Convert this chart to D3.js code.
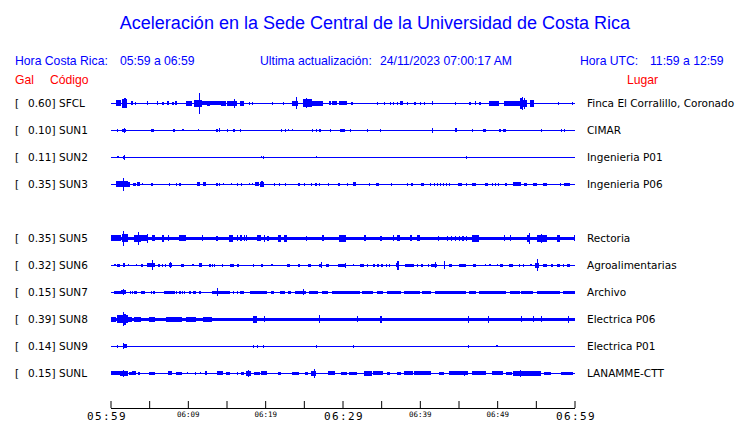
<!DOCTYPE html>
<html><head><meta charset="utf-8">
<script src="https://cdn.jsdelivr.net/npm/d3@7/dist/d3.min.js"></script>
<style>
html,body{margin:0;padding:0;background:#fff;}
svg{display:block;}
</style></head>
<body>
<svg id="chart" width="740" height="423"></svg>
<script>
// ---------- DATA ----------
const title = "Aceleración en la Sede Central de la Universidad de Costa Rica";
const horaCR = "05:59 a 06:59";
const horaUTC = "11:59 a 12:59";
const ultima = "24/11/2023 07:00:17 AM";
const startMinutes = 5 * 60 + 59; // 05:59
const tickMinutes = [0,5,10,15,20,25,30,35,40,45,50,55,60];
const labelMinutes = [0,10,20,30,40,50,60];
const bigLabelMinutes = [0,30,60];

const codes = ["SFCL","SUN1","SUN2","SUN3",null,"SUN5","SUN6","SUN7","SUN8","SUN9","SUNL"];
const gals  = [0.60, 0.10, 0.11, 0.35, null, 0.35, 0.32, 0.15, 0.39, 0.14, 0.15];
const lugares = ["Finca El Corralillo, Coronado","CIMAR","Ingenieria P01","Ingenieria P06",null,
  "Rectoria","Agroalimentarias","Archivo","Electrica P06","Electrica P01","LANAMME-CTT"];
// continuous noise floor (gal) per station
const noiseFloor = [0, 0, 0, 0, null, 0.1, 0, 0, 0.095, 0, 0];

// envelope segments per station: [start minute, end minute, half-amplitude gal]
const sfcl = [[0.65,1.3,0.15],[1.55,2.1,0.22],[1.8,1.8,0.26],[2.7,2.8,0.08],[3.2,3.3,0.07],[4.75,4.85,0.08],[6.05,6.15,0.08],[6.7,6.8,0.07],[7.35,7.45,0.08],[8.0,8.1,0.07],[8.4,8.5,0.09],
 [9.7,10.6,0.12],[10.85,11.8,0.18],[11.4,11.4,0.6],[11.8,14.3,0.09],[12.5,12.9,0.12],[14.3,14.9,0.13],[15.0,16.4,0.13],[16.0,16.0,0.24],[16.7,17.3,0.13],
 [17.85,17.95,0.07],[18.3,18.4,0.06],[20.9,21.0,0.06],[22.3,22.4,0.06],[23.5,24.3,0.13],[24.0,24.0,0.33],[24.9,26.1,0.2],[25.3,25.3,0.27],[26.1,27.5,0.11],
 [28.3,28.4,0.08],[28.7,29.3,0.09],[29.6,30.6,0.08],[31.1,31.3,0.07],[34.4,34.5,0.07],[35.4,35.5,0.07],[36.1,36.2,0.06],[36.5,36.6,0.07],[37.0,37.1,0.07],[37.4,37.8,0.09],
 [38.3,38.4,0.07],[39.3,39.4,0.06],[40.0,40.1,0.07],[40.5,40.6,0.06],[41.6,41.7,0.08],[44.5,44.6,0.07],[46.4,46.5,0.06],[47.1,47.2,0.08],[47.7,47.8,0.06],
 [49.0,50.2,0.11],[50.9,52.9,0.11],[52.9,53.9,0.18],[53.0,53.0,0.3],[53.2,53.2,0.35],[53.5,53.5,0.28],[54.2,54.8,0.18],[57.9,58.0,0.05],[59.7,59.8,0.06]];
const sun1 = [[0.8,0.9,0.05],[1.55,1.95,0.07],[1.7,1.7,0.12],[5.3,5.4,0.06],[5.5,5.6,0.06],[8.1,8.4,0.07],[9.3,9.4,0.04],[11.25,11.35,0.03],[13.7,13.8,0.05],[14.0,14.2,0.08],
 [15.1,15.2,0.05],[15.8,15.9,0.07],[16.0,16.1,0.07],[16.7,16.8,0.05],[22.0,22.1,0.05],[22.5,22.6,0.06],[22.9,23.0,0.04],[23.5,23.6,0.04],[26.0,26.1,0.06],[26.6,26.7,0.06],
 [27.0,27.1,0.06],[28.4,28.5,0.05],[29.7,30.3,0.07],[31.0,31.1,0.06],[33.2,33.3,0.05],[34.8,34.9,0.05],[41.6,41.6,0.13],[44.5,44.8,0.08],[46.7,46.8,0.05],[48.2,48.5,0.07],
 [50.3,50.4,0.06],[50.7,51.1,0.07],[55.7,55.8,0.05],[58.2,58.3,0.05],[58.6,58.7,0.05]];
const sun2 = [[0.9,1.0,0.03],[1.6,1.9,0.06],[1.7,1.7,0.1],[19.4,19.5,0.03],[19.7,19.9,0.06],[26.6,26.7,0.03],[46.0,46.0,0.07]];
const sun3 = [[0.8,2.5,0.1],[0.65,2.2,0.15],[1.6,1.6,0.35],[2.85,2.95,0.05],[3.1,3.2,0.05],[3.4,3.75,0.08],[4.1,4.2,0.04],[5.2,5.3,0.06],[5.4,5.5,0.06],[7.5,7.6,0.05],
 [8.5,8.6,0.06],[8.9,9.0,0.06],[11.2,11.6,0.08],[11.9,12.4,0.08],[13.7,13.8,0.06],[14.0,14.1,0.06],[14.5,14.6,0.04],[15.6,15.7,0.04],[16.3,16.5,0.06],[16.9,17.0,0.07],
 [17.9,18.0,0.03],[18.3,18.4,0.04],[18.7,19.2,0.08],[19.3,19.9,0.1],[19.5,19.5,0.15],[21.1,21.2,0.05],[21.8,21.9,0.05],[22.5,22.6,0.05],[24.3,24.4,0.06],[25.0,25.1,0.05],
 [25.9,26.1,0.07],[26.4,26.7,0.07],[26.9,27.1,0.07],[28.1,28.2,0.05],[29.4,29.7,0.07],[30.6,30.7,0.05],[31.3,31.7,0.08],[33.4,33.5,0.05],[34.3,34.7,0.06],[36.3,36.4,0.06],
 [38.3,38.4,0.06],[38.9,39.0,0.05],[40.2,40.6,0.07],[41.3,41.4,0.07],[41.8,41.9,0.07],[42.2,42.3,0.07],[42.6,42.7,0.07],[43.0,43.1,0.07],[43.4,43.5,0.07],[43.8,43.9,0.07],
 [44.9,45.4,0.06],[46.0,46.1,0.05],[46.8,47.3,0.07],[48.4,48.8,0.06],[49.3,49.4,0.07],[49.7,49.8,0.07],[50.1,50.3,0.07],[51.0,51.3,0.06],[52.0,53.1,0.08],[53.5,53.9,0.06],
 [54.6,55.1,0.07],[55.9,56.5,0.06],[58.1,58.3,0.05],[58.7,59.4,0.07]];
const sun5 = [[0,1.4,0.15],[1.6,1.6,0.4],[1.55,2.2,0.2],[3.1,3.9,0.17],[3.5,3.5,0.37],[4.0,4.9,0.15],[4.7,4.7,0.23],[5.4,5.8,0.14],[6.6,6.9,0.17],[7.4,7.6,0.14],[8.9,9.8,0.15],
 [11.8,11.9,0.14],[13.7,13.8,0.12],[15.3,15.8,0.16],[16.3,16.5,0.14],[16.8,17.0,0.14],[17.2,17.3,0.14],[17.5,17.7,0.14],[18.9,19.5,0.15],[19.8,19.8,0.18],[20.3,20.4,0.13],
 [21.6,22.1,0.16],[22.4,22.8,0.16],[25.3,25.4,0.13],[27.4,27.5,0.14],[29.6,30.5,0.16],[32.8,33.1,0.15],[34.9,35.0,0.13],[36.5,36.7,0.15],[37.0,37.4,0.15],[38.7,39.0,0.14],
 [39.6,40.0,0.14],[42.3,42.4,0.13],[43.5,43.6,0.13],[44.0,44.1,0.13],[44.5,44.6,0.13],[45.0,45.1,0.13],[45.5,45.6,0.13],[46.0,46.1,0.13],[46.8,47.6,0.17],[50.9,51.0,0.14],
 [51.6,51.7,0.14],[53.8,54.2,0.17],[54.1,54.1,0.3],[55.2,56.4,0.18],[55.7,55.7,0.22],[57.7,58.1,0.16],[59.9,60,0.14]];
const sun6 = [[0.5,0.6,0.04],[0.9,1.2,0.06],[1.6,1.9,0.08],[2.3,2.4,0.04],[3.3,3.4,0.04],[3.9,4.2,0.06],[4.7,5.7,0.08],[5.4,5.4,0.26],[6.2,6.4,0.07],[6.6,6.8,0.07],[7.0,7.2,0.07],
 [7.5,8.0,0.09],[7.7,7.7,0.15],[9.1,9.2,0.05],[9.3,9.4,0.05],[10.6,10.7,0.04],[11.4,11.8,0.08],[12.8,12.9,0.06],[13.1,13.2,0.06],[13.4,13.5,0.06],[14.4,14.5,0.05],[15.5,16.0,0.06],
 [16.3,16.6,0.06],[18.4,18.5,0.05],[19.5,19.6,0.06],[20.8,20.9,0.04],[22.8,23.2,0.06],[24.3,24.4,0.05],[25.5,25.9,0.07],[27.0,27.4,0.07],[27.2,27.2,0.15],[27.9,28.2,0.06],
 [29.4,30.5,0.06],[30.3,30.3,0.12],[31.3,31.4,0.04],[32.2,32.8,0.06],[33.2,33.3,0.05],[34.0,34.2,0.06],[34.5,34.6,0.06],[35.0,35.3,0.06],[35.6,35.7,0.06],[36.0,36.1,0.06],
 [36.9,37.3,0.08],[37.1,37.1,0.24],[38.1,39.2,0.07],[39.6,39.7,0.05],[40.2,40.3,0.05],[41.0,41.1,0.06],[41.5,42.2,0.07],[41.9,41.9,0.14],[43.1,43.1,0.2],[43.8,44.2,0.06],
 [45.1,46.0,0.07],[46.9,47.3,0.06],[48.4,48.5,0.04],[49.0,49.1,0.04],[50.0,50.1,0.04],[50.4,50.8,0.06],[51.5,52.0,0.07],[52.8,52.9,0.05],[53.3,53.5,0.06],[54.3,54.4,0.04],
 [54.9,55.4,0.1],[55.1,55.1,0.32],[55.9,56.4,0.07],[57.0,57.1,0.05],[57.7,58.1,0.06],[58.5,58.6,0.05],[59.0,59.4,0.06]];
const sun7 = [[0.5,1.3,0.07],[1.3,2.0,0.08],[1.6,1.6,0.15],[2.5,2.6,0.06],[2.8,2.9,0.06],[3.1,3.4,0.06],[3.9,4.4,0.07],[5.2,5.3,0.06],[5.5,5.7,0.06],[6.9,8.3,0.07],[8.5,8.6,0.06],
 [8.9,9.0,0.06],[9.2,9.3,0.06],[9.5,9.6,0.06],[10.2,10.3,0.05],[10.7,11.1,0.05],[11.5,11.6,0.05],[13.1,15.4,0.07],[13.75,13.75,0.2],[15.8,16.0,0.06],[16.3,16.5,0.06],
 [16.8,17.3,0.06],[18.0,20.3,0.07],[20.8,21.2,0.06],[21.9,22.5,0.07],[22.9,23.4,0.06],[23.8,25.3,0.07],[24.9,24.9,0.15],[25.7,26.8,0.06],[27.4,28.1,0.06],[28.7,32.2,0.07],
 [32.5,33.9,0.06],[34.4,35.2,0.06],[35.7,37.6,0.07],[38.0,40.0,0.06],[40.3,41.5,0.06],[41.9,46.0,0.07],[46.4,47.3,0.06],[47.7,51.2,0.07],[51.6,52.9,0.07],[53.1,54.6,0.07],
 [55.2,58.1,0.07],[58.5,60,0.07]];
const sun8 = [[0,0.7,0.11],[0.8,1.3,0.2],[1.3,2.2,0.2],[1.6,2.0,0.28],[1.6,1.6,0.39],[2.2,2.8,0.12],[3.1,4.0,0.12],[5.0,5.7,0.12],[7.2,9.2,0.11],[9.8,11.1,0.11],[11.9,13.1,0.11],
 [18.4,18.9,0.16],[19.8,19.8,0.15],[26.9,26.9,0.2],[31.9,31.9,0.15],[34.9,34.9,0.16],[46.2,46.2,0.18],[48.8,48.8,0.16],[53.1,53.1,0.15],[54.6,54.6,0.15],[55.7,55.7,0.15],[59.1,59.1,0.16]];
const sun9 = [[0.8,1.0,0.06],[1.6,2.1,0.08],[1.65,1.65,0.15],[18.4,18.6,0.07],[18.9,19.1,0.06],[19.7,19.9,0.07],[26.6,26.6,0.06],[31.3,31.3,0.06],[46.2,46.2,0.06],[49.9,49.9,0.04]];
const sunl = [[0,1.2,0.08],[1.2,2.3,0.1],[1.6,1.6,0.18],[2.4,2.8,0.06],[2.8,3.3,0.08],[3.6,3.7,0.05],[5.0,5.7,0.06],[7.4,8.0,0.08],[8.5,9.2,0.06],[9.9,10.0,0.04],[10.9,11.0,0.06],
 [11.6,11.7,0.04],[12.2,12.5,0.08],[13.8,14.5,0.08],[14.9,15.4,0.06],[16.3,16.4,0.05],[16.9,17.3,0.07],[17.5,18.2,0.12],[17.8,17.8,0.17],[18.5,19.3,0.07],[19.5,20.3,0.08],
 [21.6,22.0,0.06],[23.5,24.4,0.07],[25.1,25.5,0.06],[25.9,26.6,0.12],[26.3,26.3,0.22],[28.1,29.0,0.08],[29.8,30.6,0.07],[30.9,31.9,0.07],[32.8,33.8,0.1],[33.9,35.2,0.08],
 [35.7,36.1,0.06],[37.1,37.6,0.05],[38.0,39.1,0.08],[39.3,41.5,0.09],[42.5,43.1,0.07],[43.8,46.2,0.09],[45.7,45.7,0.13],[46.8,48.6,0.08],[49.3,50.7,0.09],[51.2,51.9,0.07],
 [52.0,55.7,0.1],[52.9,52.9,0.18],[56.1,57.0,0.07],[58.3,59.8,0.07]];
const envelopes = [sfcl, sun1, sun2, sun3, null, sun5, sun6, sun7, sun8, sun9, sunl];

// ---------- DRAW ----------
const svg = d3.select("#chart");
const blue = "#0000ff", red = "#ff0000";
const sans = "'Liberation Sans', Arial, sans-serif";
const djv = "'DejaVu Sans', sans-serif";

const x = d3.scaleLinear().domain([0, 60]).range([110.5, 574.5]);
const y = d3.scaleLinear().domain([0, 10]).range([103.3, 373.3]);
const amp = d3.scaleLinear().domain([0, 1]).range([0, 17]);

// header
svg.append("text").attr("x", 375).attr("y", 29).attr("text-anchor", "middle")
  .attr("font-family", sans).attr("font-size", 18).attr("fill", blue).text(title);
const hdr = [[15, "Hora Costa Rica:"], [120, horaCR], [260, "Ultima actualización:"], [380, ultima], [580, "Hora UTC:"], [650, horaUTC]];
svg.selectAll("text.hdr").data(hdr).join("text").attr("class", "hdr")
  .attr("x", d => d[0]).attr("y", 65).attr("font-family", sans).attr("font-size", 12.2)
  .attr("fill", blue).text(d => d[1]);
const red1 = [[15, "Gal"], [50, "Código"], [627, "Lugar"]];
svg.selectAll("text.red").data(red1).join("text").attr("class", "red")
  .attr("x", d => d[0]).attr("y", 84).attr("font-family", sans).attr("font-size", 12.2)
  .attr("fill", red).text(d => d[1]);

const idx = d3.range(codes.length).filter(i => codes[i] !== null);

// labels
const lab = svg.append("g").attr("font-family", djv).attr("font-size", 10.5).attr("fill", "#000");
idx.forEach(i => {
  const yy = y(i) + 4;
  lab.append("text").attr("x", 15).attr("y", yy).text("[");
  lab.append("text").attr("x", 55.5).attr("y", yy).attr("text-anchor", "end").text(gals[i].toFixed(2) + "]");
  lab.append("text").attr("x", 59).attr("y", yy).text(codes[i]);
  lab.append("text").attr("x", 587).attr("y", yy).text(lugares[i]);
});

// traces
idx.forEach(i => {
  const g = svg.append("g").attr("shape-rendering", "crispEdges").attr("fill", blue);
  const yc = y(i);
  g.append("line").attr("x1", x(0)).attr("x2", x(60)).attr("y1", yc).attr("y2", yc)
    .attr("stroke", blue).attr("stroke-width", 1.6);
  if (noiseFloor[i] > 0) {
    const h = amp(noiseFloor[i]);
    g.append("rect").attr("x", x(0)).attr("width", x(60) - x(0))
      .attr("y", yc - h).attr("height", 2 * h);
  }
  g.selectAll("rect.ev").data(envelopes[i]).join("rect").attr("class", "ev")
    .attr("x", d => x(d[0]))
    .attr("width", d => Math.max(1.2, x(d[1]) - x(d[0])))
    .attr("y", d => yc - amp(d[2]) - 0.5)
    .attr("height", d => 2 * amp(d[2]) + 1);
});

// time axis
const fmt = m => { const t = startMinutes + m; return String(Math.floor(t / 60)).padStart(2, "0") + ":" + String(t % 60).padStart(2, "0"); };
const axis = d3.axisBottom(x).tickValues(tickMinutes).tickSizeInner(-7).tickSizeOuter(0)
  .tickPadding(6).tickFormat(m => labelMinutes.includes(m) ? fmt(m) : "");
const ax = svg.append("g").attr("transform", "translate(0,408)").call(axis);
ax.select(".domain").attr("stroke", "#000").attr("stroke-width", 1);
ax.selectAll(".tick line").attr("stroke", "#000");
ax.selectAll(".tick text").attr("fill", "#000")
  .attr("font-family", "'DejaVu Sans Mono', monospace")
  .attr("font-size", m => bigLabelMinutes.includes(m) ? 11 : 7.5)
  .attr("letter-spacing", m => bigLabelMinutes.includes(m) ? 1.4 : 0)
  .attr("dy", m => bigLabelMinutes.includes(m) ? "0.5em" : "0.4em")
  .attr("dx", m => m === 0 ? -4 : (bigLabelMinutes.includes(m) ? 1 : 0));
</script>
</body></html>
